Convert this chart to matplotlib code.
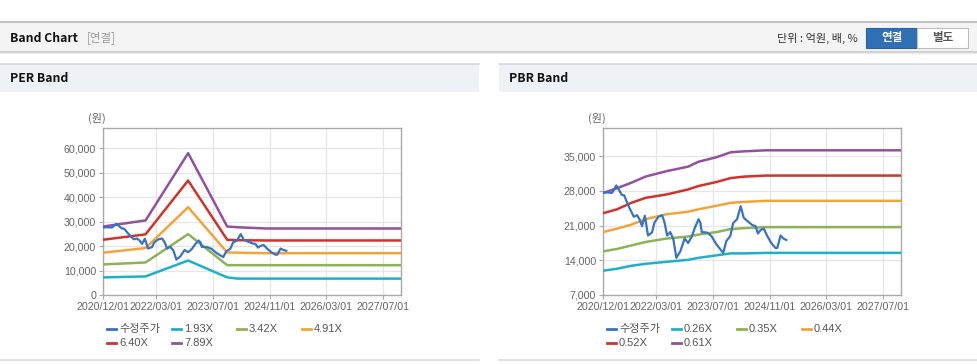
import numpy as np
import pandas as pd
import matplotlib
matplotlib.use("Agg")
import matplotlib.pyplot as plt
from matplotlib.patches import Rectangle

plt.rcParams['font.family'] = ['Liberation Sans', 'Noto Sans CJK KR', 'DejaVu Sans']
KR = ['Noto Sans CJK KR', 'DejaVu Sans']

# ---- data ----
price_dates = ["2020-12-01", "2021-01-04", "2021-02-15", "2021-03-01", "2021-03-25", "2021-04-12",
               "2021-05-12", "2021-06-01", "2021-07-07", "2021-08-22", "2021-09-19", "2021-10-10",
               "2021-11-01", "2021-11-25", "2021-12-22", "2022-01-25", "2022-02-15", "2022-03-22",
               "2022-04-22", "2022-05-13", "2022-06-04", "2022-07-01", "2022-07-28", "2022-08-22",
               "2022-09-25", "2022-11-01", "2022-12-01", "2023-01-04", "2023-01-28", "2023-03-01",
               "2023-03-16", "2023-03-28", "2023-05-13", "2023-06-19", "2023-08-01", "2023-09-04",
               "2023-09-28", "2023-10-25", "2023-11-28", "2023-12-22", "2024-01-25", "2024-02-25",
               "2024-03-22", "2024-04-19", "2024-06-04", "2024-07-01", "2024-07-22", "2024-08-13",
               "2024-09-10", "2024-10-10", "2024-11-13", "2024-12-19", "2025-01-04", "2025-02-01",
               "2025-02-25", "2025-03-22"]
price = [27600, 27700, 27600, 28100, 29100, 28400,
         27200, 27100, 25000, 22800, 23100, 22300,
         20900, 23000, 19000, 19600, 21600, 22800,
         23100, 21600, 19000, 19700, 18200, 14500,
         15800, 18400, 17500, 18900, 20600, 22300,
         21600, 19700, 19600, 18900, 17200, 16200,
         15500, 17900, 18900, 21500, 22300, 24900,
         22600, 22000, 21100, 20900, 19400, 20100,
         20400, 18900, 17500, 16500, 16500, 19000,
         18400, 18100]

per_dates = ["2020-12-01", "2021-12-01", "2022-12-01", "2023-11-01", "2024-02-01", "2024-10-01", "2027-12-01"]
per_labels = ["1.93X", "3.42X", "4.91X", "6.40X", "7.89X"]
per_193 = [7200, 7600, 14100, 7200, 6700, 6700, 6700]
per_342 = [12500, 13300, 24900, 12200, 12200, 12200, 12200]
per_491 = [17300, 19200, 35900, 17400, 17300, 17100, 17100]
per_640 = [22600, 24800, 46800, 22600, 22400, 22300, 22300]
per_789 = [28000, 30500, 58000, 28000, 27700, 27200, 27200]

pbr_dates = ["2020-12-01", "2021-04-01", "2021-08-01", "2021-12-01", "2022-06-01", "2022-12-01",
             "2023-03-01", "2023-08-01", "2023-12-01", "2024-04-01", "2024-10-01", "2027-12-01"]
pbr_labels = ["0.26X", "0.35X", "0.44X", "0.52X", "0.61X"]
pbr_026 = [11900, 12300, 12900, 13300, 13700, 14100, 14500, 15000, 15400, 15400, 15500, 15500]
pbr_035 = [15800, 16300, 17000, 17700, 18400, 18800, 19200, 19700, 20300, 20500, 20700, 20700]
pbr_044 = [19700, 20400, 21200, 22300, 23300, 23800, 24300, 25000, 25600, 25800, 26000, 26000]
pbr_052 = [23500, 24300, 25600, 26600, 27300, 28300, 29000, 29800, 30600, 30900, 31100, 31100]
pbr_061 = [27600, 28550, 29650, 30900, 32000, 32900, 33900, 34800, 35800, 36000, 36200, 36200]

tick_dates = ["2020-12-01", "2022-03-01", "2023-07-01", "2024-11-01", "2026-03-01", "2027-07-01"]
tick_labels = ["2020/12/01", "2022/03/01", "2023/07/01", "2024/11/01", "2026/03/01", "2027/07/01"]
per_yticks = [0, 10000, 20000, 30000, 40000, 50000, 60000]
pbr_yticks = [7000, 14000, 21000, 28000, 35000]

price_label = "수정주가"
band_colors = ["#1fb0c8", "#8cb356", "#f2a43a", "#d0332b", "#92519e"]
price_color = "#3872c6"

W, H = 978, 364
fig = plt.figure(figsize=(W / 100, H / 100), dpi=100)

# ---- page frame (pixel coords) ----
bg = fig.add_axes([0, 0, 1, 1])
bg.set_xlim(0, W)
bg.set_ylim(H, 0)
bg.axis("off")
bg.add_patch(Rectangle((0, 22), W, 29, facecolor="#f4f4f4", edgecolor="none"))
bg.plot([0, W], [22, 22], color="#b8b8b8", lw=1.2)
bg.plot([0, W], [51.5, 51.5], color="#cfcfcf", lw=1.5)
bg.plot([0, W], [53, 53], color="#ececec", lw=1)
bg.text(10, 38, "Band Chart", fontsize=8.8, fontweight="bold", color="#111111", va="center", family=KR)
bg.text(87, 38, "[연결]", fontsize=8.3, color="#999999", va="center", family=KR)
bg.text(858, 38, "단위 : 억원, 배, %", fontsize=8, color="#333333", va="center", ha="right", family=KR)
bg.add_patch(Rectangle((866, 28), 51, 20, facecolor="#2f6fb6", edgecolor="#2a62a3", lw=0.8))
bg.add_patch(Rectangle((917, 28), 51, 20, facecolor="#ffffff", edgecolor="#bdbdbd", lw=0.8))
bg.text(891.5, 38, "연결", fontsize=8.3, fontweight="bold", color="white", ha="center", va="center", family=KR)
bg.text(942.5, 38, "별도", fontsize=8.3, fontweight="bold", color="#555555", ha="center", va="center", family=KR)

for x0, x1, title in [(0, 479, "PER Band"), (499, W, "PBR Band")]:
    bg.add_patch(Rectangle((x0, 64), x1 - x0, 28, facecolor="#eef2f7", edgecolor="none"))
    bg.plot([x0, x1], [64, 64], color="#d6dbe1", lw=1.2)
    bg.plot([x0, x1], [359.5, 359.5], color="#dddddd", lw=1.2)
    bg.text(x0 + 10, 79, title, fontsize=8.8, fontweight="bold", color="#111111", va="center", family=KR)


def draw_chart(left, dates, bands, labels, yticks, ylim, fmt):
    ax = fig.add_axes([left / W, (H - 295) / H, 298 / W, 167 / H])
    d = pd.to_datetime(dates)
    lines = []
    l, = ax.plot(pd.to_datetime(price_dates), price, color=price_color, lw=1.6, zorder=4)
    lines.append((l, price_label))
    for vals, lab, c in zip(bands, labels, band_colors):
        l, = ax.plot(d, vals, color=c, lw=1.8, zorder=3)
        lines.append((l, lab))
    ax.set_xlim(pd.Timestamp("2020-12-01"), pd.Timestamp("2027-12-01"))
    ax.set_ylim(*ylim)
    ax.set_xticks(pd.to_datetime(tick_dates))
    ax.set_xticklabels(tick_labels)
    ax.set_yticks(yticks)
    ax.set_yticklabels([fmt(v) for v in yticks])
    ax.grid(True, color="#e6e6e6", lw=0.9, zorder=0)
    ax.set_axisbelow(True)
    for s in ax.spines.values():
        s.set_color("#aaaaaa")
        s.set_linewidth(1)
    ax.tick_params(colors="#aaaaaa", labelcolor="#666666", labelsize=7.7, length=3, width=0.8, pad=2)
    ax.text(-0.02, 1.06, "(원)", transform=ax.transAxes, fontsize=8, color="#666666",
            ha="center", va="center", family=KR)

    # legend, two rows of four columns
    for i, (ln, lab) in enumerate(lines):
        col, row = i % 4, i // 4
        lx = left + 4 + col * 65
        ly = 329 + row * 14
        bg.plot([lx, lx + 9], [ly, ly], color=ln.get_color(), lw=2)
        bg.text(lx + 12, ly, lab, fontsize=8, color="#555555", va="center",
                family=KR if lab == price_label else ['Liberation Sans', 'DejaVu Sans'])
    return ax


draw_chart(103, per_dates, [per_193, per_342, per_491, per_640, per_789], per_labels,
           per_yticks, (0, 68300), lambda v: f"{v:,}")
draw_chart(603, pbr_dates, [pbr_026, pbr_035, pbr_044, pbr_052, pbr_061], pbr_labels,
           pbr_yticks, (7000, 40700), lambda v: f"{v:,}")

fig.savefig("out.png", dpi=100)
